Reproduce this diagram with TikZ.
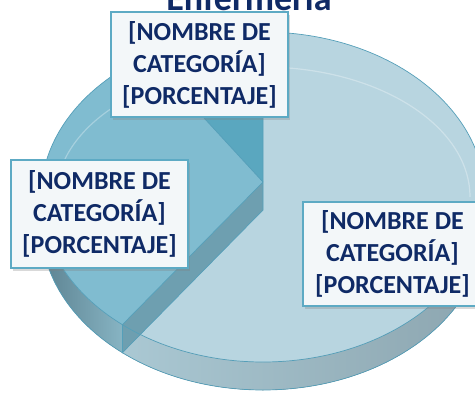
\documentclass[tikz,border=0pt]{standalone}
\usepackage{fontspec}
\setmainfont{Carlito}
\usetikzlibrary{shadows}
\definecolor{navy}{HTML}{0F2A66}
\definecolor{largetop}{HTML}{B8D5E0}
\definecolor{medtop}{HTML}{80BCD0}
\definecolor{smalltop}{HTML}{5AA7BF}
\definecolor{radface}{HTML}{6E9FB0}
\definecolor{edgec}{HTML}{559FB9}
\definecolor{lblborder}{HTML}{5DAAC4}
\definecolor{lblfill}{HTML}{F3F7F9}
\definecolor{bandA}{HTML}{AAC8D3}
\definecolor{bandB}{HTML}{B4CFD8}
\definecolor{bandC}{HTML}{8CA5AF}
\definecolor{bandD}{HTML}{5C8291}
\definecolor{bandE}{HTML}{87B4C3}
\begin{document}
\begin{tikzpicture}[x=1pt,y=-1pt,
  edge/.style={draw=edgec, line width=0.7pt},
  lbl/.style={draw=lblborder, line width=1.6pt, fill=lblfill, text=navy,
    font=\bfseries\fontsize{26}{32}\selectfont, align=center, inner sep=0pt,
    minimum width=177pt, minimum height=105pt,
    drop shadow={opacity=0.3, shadow xshift=2pt, shadow yshift=-3pt}}]
\useasboundingbox (0,0) rectangle (475,392);
\clip (0,0) rectangle (475,392);
\coordinate (C) at (263,197);
\coordinate (A) at (263,182);
\coordinate (A2) at (263,210);
\coordinate (T) at (263,32);
\coordinate (P) at ([shift={(263,197)}]129.3:222 and 165);
\coordinate (Q) at ([shift={(263,197)}]238.55:222 and 165);
\coordinate (L) at ([shift={(263,197)}]180:222 and 165);
% side band of the large slice
\fill[left color=bandA, middle color=bandB, right color=bandC]
  (P) arc[start angle=129.3,end angle=0,x radius=222,y radius=165] -- ++(0,28)
  arc[start angle=0,end angle=129.3,x radius=222,y radius=165] -- cycle;
% side band of the medium slice
\fill[left color=bandD, right color=bandE]
  (L) arc[start angle=180,end angle=129.3,x radius=222,y radius=165] -- ++(0,28)
  arc[start angle=129.3,end angle=180,x radius=222,y radius=165] -- cycle;
% top of the large slice
\fill[largetop] (C) ellipse[x radius=222,y radius=165];
% radial face of the medium slice
\fill[radface] (A) -- (P) -- ++(0,28) -- (A2) -- cycle;
% top of the medium slice
\fill[medtop] (A) -- (P) arc[start angle=129.3,end angle=238.55,x radius=222,y radius=165] -- cycle;
% top of the small slice
\fill[smalltop] (A) -- (Q) arc[start angle=238.55,end angle=270,x radius=222,y radius=165] -- cycle;
% bevel highlight
\draw[white, opacity=0.3, line width=1.2pt] ([shift={(263,197)}]180:207 and 130)
  arc[start angle=180,end angle=360,x radius=207,y radius=130];
% outlines
\draw[edge] (C) ellipse[x radius=222,y radius=165];
\draw[edge] (L) -- ++(0,28) arc[start angle=180,end angle=0,x radius=222,y radius=165];
\draw[edge] (T) -- (A) -- (P) -- ++(0,28) -- (A2) -- (A);
\draw[edge] (A) -- (Q);
% labels
\node[lbl] (lab1) at (199.5,64.5) {[NOMBRE DE\\{}CATEGORÍA]\\{}[PORCENTAJE]};
\node[lbl, minimum height=108pt] (lab2) at (99.5,214) {[NOMBRE DE\\{}CATEGORÍA]\\{}[PORCENTAJE]};
\node[lbl, minimum width=179pt, minimum height=104pt] (lab3) at (392.5,254) {[NOMBRE DE\\{}CATEGORÍA]\\{}[PORCENTAJE]};
% title
\node[font=\bfseries\fontsize{36}{40}\selectfont, text=navy, anchor=base, inner sep=0pt] (title) at (249,10) {Enfermería};
\end{tikzpicture}
\end{document}
